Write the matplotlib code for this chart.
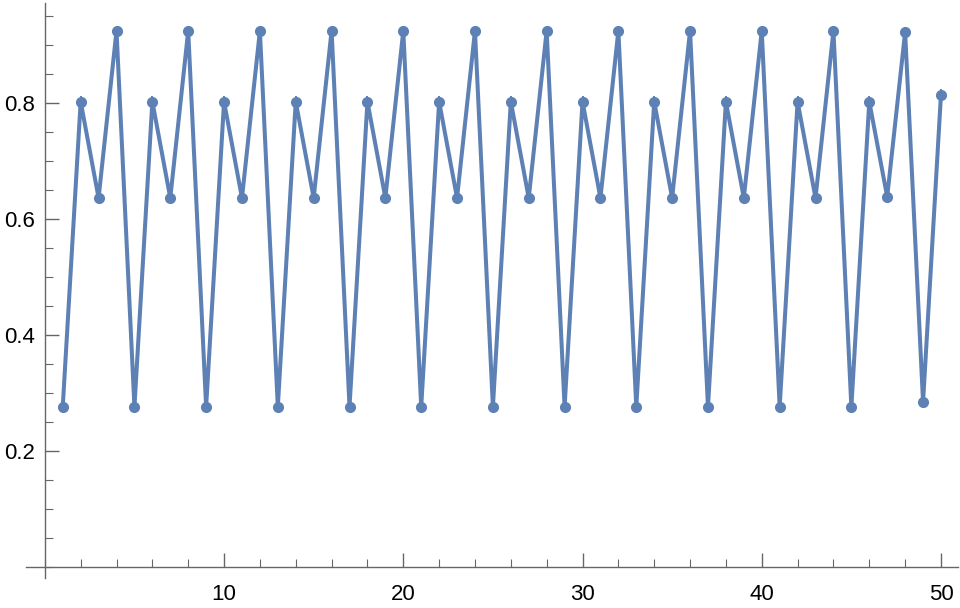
import numpy as np
import matplotlib.pyplot as plt
from matplotlib.ticker import MultipleLocator, FixedLocator

plt.rcParams["font.family"] = ["Liberation Sans", "DejaVu Sans"]

x = list(range(1, 51))
y = [0.276, 0.802, 0.636, 0.924, 0.276, 0.802, 0.636, 0.924, 0.276, 0.802,
     0.636, 0.924, 0.276, 0.802, 0.636, 0.924, 0.276, 0.802, 0.636, 0.924,
     0.276, 0.802, 0.636, 0.924, 0.276, 0.802, 0.636, 0.924, 0.276, 0.802,
     0.636, 0.924, 0.276, 0.802, 0.636, 0.924, 0.276, 0.802, 0.636, 0.924,
     0.276, 0.802, 0.636, 0.924, 0.276, 0.802, 0.638, 0.922, 0.284, 0.814]
err = [0.009] * 50

blue = "#5E81B5"
axis_col = "#666666"

fig = plt.figure(figsize=(9.6, 6.08), dpi=100)
ax = fig.add_axes([26/960, 30/608, 932/960, 575/608])

ax.errorbar(x, y, yerr=err, fmt="none", ecolor=blue, elinewidth=1.4, capsize=0)
ax.plot(x, y, color=blue, linewidth=2.9, marker="o", markersize=7)

ax.set_xlim(-1.05, 50.95)
ax.set_ylim(-0.019, 0.972)

for s in ["top", "right"]:
    ax.spines[s].set_visible(False)
ax.spines["left"].set_position(("data", 0))
ax.spines["bottom"].set_position(("data", 0))
for s in ["left", "bottom"]:
    ax.spines[s].set_color(axis_col)
    ax.spines[s].set_linewidth(1.0)

ax.xaxis.set_major_locator(FixedLocator([10, 20, 30, 40, 50]))
ax.xaxis.set_minor_locator(MultipleLocator(2))
ax.yaxis.set_major_locator(FixedLocator([0.2, 0.4, 0.6, 0.8]))
ax.yaxis.set_minor_locator(MultipleLocator(0.05))

ax.tick_params(which="major", direction="in", length=10, width=1.0, color=axis_col,
               labelsize=16)
ax.tick_params(axis="y", which="major", pad=7)
ax.tick_params(axis="x", which="major", pad=12)
ax.tick_params(which="minor", direction="in", length=6, width=0.8, color=axis_col)
ax.set_yticklabels(["0.2", "0.4", "0.6", "0.8"])

fig.savefig("out.png", dpi=100)
